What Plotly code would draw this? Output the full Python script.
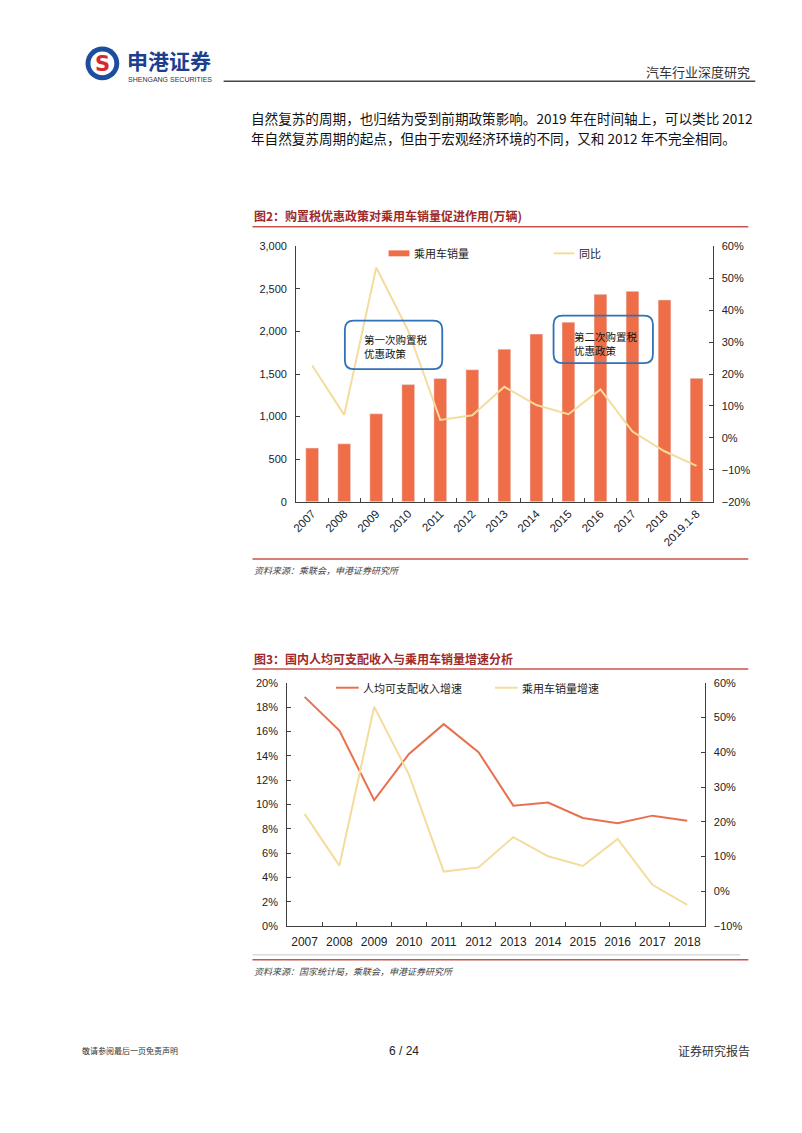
import plotly.graph_objects as go

W, H = 802, 1133
def X(px): return px / W
def Y(py): return 1 - py / H

# ---------------- data ----------------
years1 = ["2007", "2008", "2009", "2010", "2011", "2012", "2013", "2014",
          "2015", "2016", "2017", "2018", "2019.1-8"]
sales = [630, 680, 1033, 1376, 1447, 1550, 1793, 1970, 2110, 2437, 2472, 2371, 1450]
yoy = [0.227, 0.072, 0.534, 0.335, 0.056, 0.071, 0.160, 0.103, 0.074, 0.152, 0.020, -0.042, -0.088]
series1_names = ["乘用车销量", "同比"]

years2 = ["2007", "2008", "2009", "2010", "2011", "2012", "2013", "2014",
          "2015", "2016", "2017", "2018"]
income_growth = [0.1884, 0.1607, 0.1035, 0.1415, 0.1660, 0.1430, 0.0990, 0.1016,
                 0.0889, 0.0846, 0.0908, 0.0867]
car_growth = [0.223, 0.074, 0.531, 0.336, 0.057, 0.069, 0.156, 0.101, 0.073, 0.151, 0.019, -0.039]
series2_names = ["人均可支配收入增速", "乘用车销量增速"]

BAR = "#EF6D47"
YEL = "#F3DC9E"
RED = "#E9704E"
TITLE = "#9E2A2B"
RULE = "#C8554C"
AX = "#3F3F3F"
CJK = "Noto Sans CJK SC"
LAT = "Liberation Sans, Arial"

fig = go.Figure()
fig.add_trace(go.Bar(x=years1, y=sales, name=series1_names[0], marker_color=BAR,
                     width=0.4, xaxis="x", yaxis="y"))
fig.add_trace(go.Scatter(x=years1, y=yoy, name=series1_names[1], mode="lines",
                         line=dict(color=YEL, width=2), xaxis="x", yaxis="y2"))
fig.add_trace(go.Scatter(x=years2, y=income_growth, name=series2_names[0], mode="lines",
                         line=dict(color=RED, width=2), xaxis="x2", yaxis="y3"))
fig.add_trace(go.Scatter(x=years2, y=car_growth, name=series2_names[1], mode="lines",
                         line=dict(color=YEL, width=2), xaxis="x2", yaxis="y4"))

tickf = dict(family=LAT, size=11, color="#222")
axcommon = dict(showgrid=False, zeroline=False, showline=True, linecolor=AX, linewidth=1,
                ticks="inside", ticklen=4, tickcolor=AX, tickfont=tickf)

fig.update_layout(
    width=W, height=H, autosize=False, margin=dict(l=0, r=0, t=0, b=0),
    paper_bgcolor="white", plot_bgcolor="white", showlegend=False,
    xaxis=dict(domain=[X(293), X(712)], anchor="y", type="category", tickangle=-45,
               range=[-0.5, len(years1) - 0.5], tickson="boundaries",
               **{**axcommon, "tickfont": dict(family=LAT, size=11.5, color="#222")}),
    yaxis=dict(domain=[Y(501), Y(243)], anchor="x", range=[0, 3000], dtick=500,
               tickformat=",", ticklabelstandoff=6, **axcommon),
    yaxis2=dict(overlaying="y", anchor="x", side="right", range=[-0.2, 0.6], dtick=0.1,
                tickformat=".0%", ticklabelstandoff=6, **axcommon),
    xaxis2=dict(domain=[X(284), X(704)], anchor="y3", type="category", tickangle=0,
                range=[-0.5, len(years2) - 0.5], tickson="boundaries", ticklabelstandoff=4,
                **{**axcommon, "tickfont": dict(family=LAT, size=12, color="#222")}),
    yaxis3=dict(domain=[Y(930), Y(684)], anchor="x2", range=[0, 0.2], dtick=0.02,
                tickformat=".0%", ticklabelstandoff=6, **axcommon),
    yaxis4=dict(overlaying="y3", anchor="x2", side="right", range=[-0.1, 0.6], dtick=0.1,
                tickformat=".0%", ticklabelstandoff=6, **axcommon),
)

shapes = []
ann = []

def line(x0, y0, x1, y1, color, width=1):
    shapes.append(dict(type="line", xref="paper", yref="paper", x0=X(x0), y0=Y(y0),
                       x1=X(x1), y1=Y(y1), line=dict(color=color, width=width)))

def text(x, y, s, size, color="#222", family=CJK, xanchor="left", bold=False, italic=False):
    if bold:
        s = "<b>" + s + "</b>"
    if italic:
        s = "<i>" + s + "</i>"
    ann.append(dict(x=X(x), y=Y(y), xref="paper", yref="paper", text=s, showarrow=False,
                    xanchor=xanchor, yanchor="middle", font=dict(family=family, size=size, color=color)))

def rrect(x0, y0, x1, y1, r, color):
    rx, ry = r / W, r / H
    a, b, c, d = X(x0), Y(y1), X(x1), Y(y0)  # a left, b bottom, c right, d top
    p = (f"M {a+rx} {d} L {c-rx} {d} Q {c} {d} {c} {d-ry} L {c} {b+ry} Q {c} {b} {c-rx} {b} "
         f"L {a+rx} {b} Q {a} {b} {a} {b+ry} L {a} {d-ry} Q {a} {d} {a+rx} {d} Z")
    shapes.append(dict(type="path", xref="paper", yref="paper", path=p,
                       line=dict(color=color, width=1.8)))

# ---- header ----
shapes.append(dict(type="circle", xref="paper", yref="paper", x0=X(81), x1=X(115), y0=Y(75), y1=Y(41),
                   fillcolor="#1D4E9E", line=dict(width=0)))
shapes.append(dict(type="circle", xref="paper", yref="paper", x0=X(86), x1=X(110), y0=Y(70), y1=Y(46),
                   fillcolor="white", line=dict(width=0)))
text(98, 59, "S", 21, color="#D7282F", family="DejaVu Sans", xanchor="center", bold=True)
text(121, 55, "申港证券", 21, color="#1D3F8F", bold=True)
text(122, 74, "SHENGANG SECURITIES", 7, color="#333", family=LAT)
line(220, 76, 755, 76, "#444", 1.5)
text(752, 66, "汽车行业深度研究", 13, color="#333", xanchor="right")

# ---- body text ----
text(246, 113, "自然复苏的周期，也归结为受到前期政策影响。2019 年在时间轴上，可以类比 2012", 13.6, color="#111")
text(246, 133, "年自然复苏周期的起点，但由于宏观经济环境的不同，又和 2012 年不完全相同。", 13.6, color="#111")

# ---- chart 1 ----
text(249, 212, "图2：购置税优惠政策对乘用车销量促进作用(万辆)", 12, color=TITLE, bold=True)
line(249, 223, 748, 223, RULE, 1.5)
shapes.append(dict(type="rect", xref="paper", yref="paper", x0=X(386), x1=X(407), y0=Y(253), y1=Y(247),
                   fillcolor=BAR, line=dict(width=0)))
text(410, 250, series1_names[0], 11, color="#222")
line(552, 250, 573, 250, YEL, 2)
text(576, 250, series1_names[1], 11, color="#222")
rrect(342, 318, 440, 367, 9, "#2F72B8")
text(359, 337, "第一次购置税", 10.5, color="#111")
text(359, 351, "优惠政策", 10.5, color="#111")
rrect(552, 313, 652, 361, 9, "#2F72B8")
text(571, 334, "第二次购置税", 10.5, color="#111")
text(571, 348, "优惠政策", 10.5, color="#111")
line(249, 559, 748, 559, RULE, 1.5)
text(249, 571, "资料来源：乘联会，申港证券研究所", 9, color="#444", italic=True)

# ---- chart 2 ----
text(249, 659, "图3：国内人均可支配收入与乘用车销量增速分析", 12, color=TITLE, bold=True)
line(249, 670, 748, 670, RULE, 1.5)
line(333, 689, 356, 689, RED, 2)
text(358, 689, series2_names[0], 11, color="#222")
line(493, 689, 516, 689, YEL, 2)
text(518, 689, series2_names[1], 11, color="#222")
line(249, 959, 740, 959, "#DADADA", 1.5)
line(249, 964, 748, 964, RULE, 1.5)
text(249, 976, "资料来源：国家统计局，乘联会，申港证券研究所", 9, color="#444", italic=True)

# ---- footer ----
text(75, 1056, "敬请参阅最后一页免责声明", 8, color="#333")
text(401, 1056, "6 / 24", 12, color="#222", family=LAT, xanchor="center")
text(752, 1056, "证券研究报告", 12, color="#333", xanchor="right")

fig.update_layout(shapes=shapes, annotations=ann)
fig.write_html("out.html", config={"displayModeBar": False},
               post_script="document.body.style.margin='0';document.body.style.overflow='hidden';")
